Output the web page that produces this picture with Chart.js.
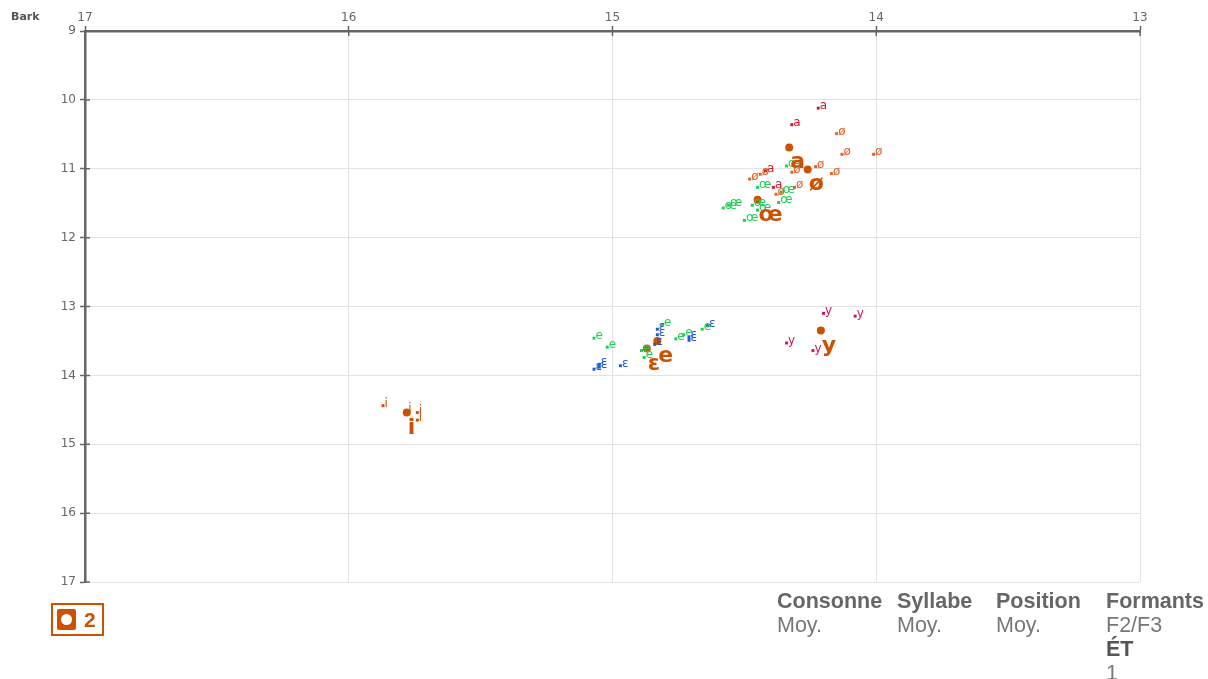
<!DOCTYPE html>
<html>
<head>
<meta charset="utf-8">
<script src="https://cdn.jsdelivr.net/npm/chart.js@4"></script>
<style>
  html, body { margin: 0; padding: 0; background: #fff; }
  #wrap { position: relative; width: 1208px; height: 679px; overflow: hidden; }
  #wrap canvas { position: absolute; left: 0; top: 0; }
  .bark { position: absolute; left: 11px; top: 10px; font: bold 11px 'DejaVu Sans', sans-serif; color: #555; }
  .legend-box { position: absolute; left: 51px; top: 603px; width: 49px; height: 29px; border: 2px solid #cc5200; }
  .legend-sq { position: absolute; left: 4px; top: 4px; width: 19px; height: 21px; background: #cc5200; border-radius: 2px; }
  .legend-sq:after { content: ''; position: absolute; left: 4px; top: 5px; width: 11px; height: 11px; border-radius: 50%; background: #fff; }
  .legend-num { position: absolute; left: 31px; top: 3px; font: bold 21px 'Liberation Sans', Arial, sans-serif; color: #cc5200; }
  .col { position: absolute; top: 589px; font-family: 'Liberation Sans', Arial, sans-serif; font-size: 21.5px; line-height: 24px; }
  .col b { color: #666; display: block; }
  .col span { color: #777; display: block; }
  .col b.dark { color: #555; }
</style>
</head>
<body>
<div id="wrap">
  <canvas id="vowels"></canvas>
  <div class="bark">Bark</div>
  <div class="legend-box"><div class="legend-sq"></div><div class="legend-num">2</div></div>
  <div class="col" style="left:777px"><b>Consonne</b><span>Moy.</span></div>
  <div class="col" style="left:897px"><b>Syllabe</b><span>Moy.</span></div>
  <div class="col" style="left:996px"><b>Position</b><span>Moy.</span></div>
  <div class="col" style="left:1106px"><b>Formants</b><span>F2/F3</span><b class="dark">ÉT</b><span>1</span></div>
</div>
<script>
// ---- tokens (x = F2 Bark, y = F3 Bark) ----
const ptsA  = [[14.22, 10.12], [14.32, 10.36], [14.42, 11.03], [14.39, 11.27]];
const ptsOe = [[14.15, 10.49], [14.13, 10.79], [14.01, 10.79], [14.23, 10.97], [14.17, 11.07],
               [14.48, 11.15], [14.44, 11.08], [14.38, 11.37], [14.31, 11.27], [14.32, 11.05]];
const ptsOE = [[14.34, 10.96], [14.45, 11.27], [14.36, 11.34], [14.37, 11.49], [14.58, 11.57],
               [14.56, 11.53], [14.47, 11.53], [14.45, 11.60], [14.50, 11.75]];
const ptsE  = [[15.07, 13.46], [15.02, 13.59], [14.89, 13.64], [14.88, 13.74], [14.81, 13.27],
               [14.76, 13.47], [14.73, 13.41], [14.66, 13.33]];
const ptsEps = [[15.07, 13.91], [15.05, 13.88], [15.05, 13.84], [14.97, 13.86], [14.83, 13.33],
                [14.83, 13.41], [14.84, 13.55], [14.71, 13.45], [14.71, 13.49], [14.64, 13.28]];
const ptsY  = [[14.20, 13.10], [14.08, 13.14], [14.34, 13.53], [14.24, 13.64]];
const ptsI  = [[15.87, 14.44], [15.78, 14.52], [15.74, 14.54], [15.74, 14.65]];

// ---- means ----
const meanLabels = ['a', 'ø', 'œ', 'e', 'ɛ', 'y', 'i'];
const meanX = [14.33, 14.26, 14.45, 14.83, 14.87, 14.21, 15.78];
const meanY = [10.69, 11.01, 11.45, 13.50, 13.61, 13.35, 14.54];

const xTicks = [17, 16, 15, 14, 13];
const yTicks = [9, 10, 11, 12, 13, 14, 15, 16, 17];

const MEAN_COLOR = '#cc5200';

const groups = [
  { label: 'a', pts: ptsA, color: '#d4162b' },
  { label: 'ø', pts: ptsOe, color: '#e0602a' },
  { label: 'œ', pts: ptsOE, color: '#22cc55' },
  { label: 'e', pts: ptsE, color: '#22cc55' },
  { label: 'ɛ', pts: ptsEps, color: '#1f5ad8' },
  { label: 'y', pts: ptsY, color: '#d0145a' },
  { label: 'i', pts: ptsI, color: '#d05008' },
];

const datasets = groups.map(g => ({
  label: g.label,
  data: g.pts.map(p => ({ x: p[0], y: p[1] })),
  pointStyle: 'rect',
  pointRadius: 2.1,
  backgroundColor: g.color,
  borderWidth: 0,
  tokenText: g.label,
  tokenColor: g.color
}));

datasets.push({
  label: 'moyenne',
  data: meanX.map((x, i) => ({ x, y: meanY[i] })),
  pointStyle: 'circle',
  pointRadius: 4,
  backgroundColor: MEAN_COLOR,
  borderWidth: 0,
  isMean: true
});

const labelPlugin = {
  id: 'vowelLabels',
  afterDatasetsDraw(chart) {
    const ctx = chart.ctx;
    ctx.save();
    ctx.textAlign = 'left';
    ctx.textBaseline = 'alphabetic';
    chart.data.datasets.forEach((ds, d) => {
      const meta = chart.getDatasetMeta(d);
      meta.data.forEach((el, i) => {
        if (ds.isMean) {
          ctx.font = 'bold 22px "DejaVu Sans", sans-serif';
          ctx.fillStyle = MEAN_COLOR;
          ctx.fillText(meanLabels[i], el.x + 1, el.y + 21);
        } else {
          ctx.font = '12px "DejaVu Sans", sans-serif';
          ctx.fillStyle = ds.tokenColor;
          ctx.fillText(ds.tokenText, el.x + 1.5, el.y + 1);
        }
      });
    });
    ctx.restore();
  },
  afterDraw(chart) {
    // inner half of the tick marks, crossing the axis lines
    const { ctx, chartArea, scales } = chart;
    ctx.save();
    ctx.strokeStyle = '#666';
    ctx.lineWidth = 1.5;
    ctx.beginPath();
    xTicks.forEach(v => {
      const px = scales.x.getPixelForValue(v);
      ctx.moveTo(px, chartArea.top);
      ctx.lineTo(px, chartArea.top + 5);
    });
    yTicks.forEach(v => {
      const py = scales.y.getPixelForValue(v);
      ctx.moveTo(chartArea.left, py);
      ctx.lineTo(chartArea.left + 5, py);
    });
    ctx.stroke();
    ctx.restore();
  }
};

new Chart(document.getElementById('vowels'), {
  type: 'scatter',
  data: { datasets },
  options: {
    responsive: true,
    maintainAspectRatio: false,
    animation: false,
    layout: { padding: { top: 0, left: 0, right: 68, bottom: 97 } },
    plugins: { legend: { display: false }, tooltip: { enabled: false } },
    scales: {
      x: {
        type: 'linear', position: 'top', min: 13, max: 17, reverse: true,
        afterFit: s => { s.height = 31; },
        afterBuildTicks: s => { s.ticks = xTicks.map(v => ({ value: v })); },
        ticks: { color: '#666', font: { family: 'DejaVu Sans', size: 12 }, padding: 1, maxRotation: 0 },
        grid: { color: '#e2e2e2', tickColor: '#666', tickLength: 5, tickWidth: 1.5 },
        border: { color: '#666', width: 2.5 }
      },
      y: {
        type: 'linear', position: 'left', min: 9, max: 17, reverse: true,
        afterFit: s => { s.width = 85; },
        afterBuildTicks: s => { s.ticks = yTicks.map(v => ({ value: v })); },
        ticks: { color: '#666', font: { family: 'DejaVu Sans', size: 12 }, padding: 4 },
        grid: { color: '#e2e2e2', tickColor: '#666', tickLength: 5, tickWidth: 1.5 },
        border: { color: '#666', width: 2.5 }
      }
    }
  },
  plugins: [labelPlugin]
});
</script>
</body>
</html>
